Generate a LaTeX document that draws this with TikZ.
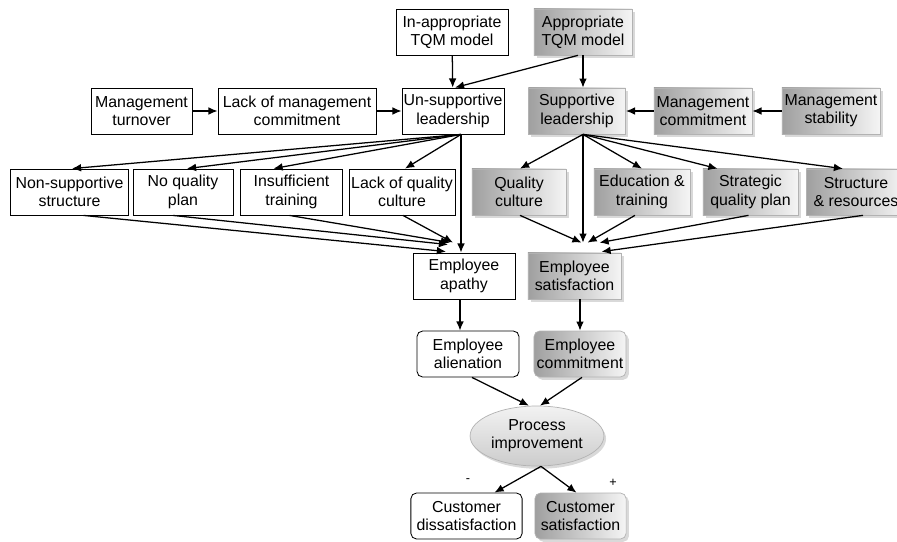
\documentclass[tikz,border=0pt]{standalone}
\usepackage{fontspec}
\setmainfont{Liberation Sans}
\usetikzlibrary{shapes.geometric,shadows,calc,arrows.meta}
\begin{document}
\begin{tikzpicture}[x=0.025cm,y=-0.025cm,
  every node/.style={align=center,font=\fontsize{11.3}{13}\selectfont,inner sep=1pt},
  plainbox/.style={draw,line width=0.6pt,minimum height=1.15cm},
  roundbox/.style={plainbox,rounded corners=4pt},
  shadebox/.style={draw=gray!60,line width=0.5pt,minimum height=1.15cm,
    left color=gray!75,right color=gray!8,
    drop shadow={shadow xshift=2pt,shadow yshift=-2pt,opacity=0.3}},
  shaderound/.style={shadebox,rounded corners=4pt},
  arr/.style={-{Latex[length=6.5pt,width=5.5pt]},line width=0.9pt}]
\useasboundingbox (0,0) rectangle (897,541);
\node[plainbox,minimum width=2.8cm] (inapp) at (452,32) {In-appropriate\\TQM model};
\node[shadebox,minimum width=2.45cm] (app) at (583,32) {Appropriate\\TQM model};
\node[plainbox,minimum width=2.525cm] (mturn) at (141.5,111) {Management\\turnover};
\node[plainbox,minimum width=3.95cm] (lackmc) at (297,111) {Lack of management\\commitment};
\node[plainbox,minimum width=2.55cm] (unsup) at (453,111) {Un-supportive\\leadership};
\node[shadebox,minimum width=2.43cm] (supp) at (577,111) {Supportive\\leadership};
\node[shadebox,minimum width=2.45cm] (mcomm) at (703,111) {Management\\commitment};
\node[shadebox,minimum width=2.45cm] (mstab) at (831,111) {Management\\stability};
\node[plainbox,minimum width=2.93cm] (nonsup) at (69.5,192) {Non-supportive\\structure};
\node[plainbox,minimum width=2.5cm] (noqp) at (183,192) {No quality\\plan};
\node[plainbox,minimum width=2.53cm] (insuf) at (291.5,192) {Insufficient\\training};
\node[plainbox,minimum width=2.65cm] (lackqc) at (402,192) {Lack of quality\\culture};
\node[shadebox,minimum width=2.35cm] (qcult) at (519,192) {Quality\\culture};
\node[shadebox,minimum width=2.4cm] (edu) at (642,192) {Education \&\\training};
\node[shadebox,minimum width=2.38cm] (strat) at (750.5,192) {Strategic\\quality plan};
\node[shadebox,minimum width=2.48cm] (struct) at (856,192) {Structure\\\& resources};
\node[plainbox,minimum width=2.55cm] (apathy) at (464,276) {Employee\\apathy};
\node[shadebox,minimum width=2.33cm] (esat) at (574.5,276) {Employee\\satisfaction};
\node[roundbox,minimum width=2.55cm] (alien) at (468,354) {Employee\\alienation};
\node[shaderound,minimum width=2.3cm] (ecomm) at (580,354) {Employee\\commitment};
\node[ellipse,draw=gray!60,line width=0.5pt,top color=gray!10,bottom color=gray!40,
  minimum width=3.1cm,minimum height=1.5cm,
  drop shadow={shadow xshift=1.5pt,shadow yshift=-2pt,opacity=0.3}] (procimp) at (537,436) {Process\\improvement};
\node[roundbox,minimum width=2.78cm] (cdis) at (466.5,516) {Customer\\dissatisfaction};
\node[shaderound,minimum width=2.28cm] (csat) at (580.5,516) {Customer\\satisfaction};
\node[font=\small] (minus) at (468,481) {-};
\node[font=\small] (plus) at (613,483) {+};
\draw[arr] (mturn) -- (lackmc);
\draw[arr] (lackmc) -- (unsup);
\draw[arr] (inapp) -- (unsup);
\draw[arr] ($(app.south)+(-5,0)$) -- ($(unsup.north)+(2,0)$);
\draw[arr] (app.south) -- (app.south |- supp.north);
\draw[arr] (mstab) -- (mcomm);
\draw[arr] (mcomm) -- (supp);
\coordinate (us) at ($(unsup.south)+(8,0)$);
\draw[arr] (us) -- ($(nonsup.north)+(2.5,0)$);
\draw[arr] (us) -- ($(noqp.north)+(4,0)$);
\draw[arr] (us) -- ($(insuf.north)+(-18,0)$);
\draw[arr] (us) -- ($(lackqc.north)+(3,0)$);
\draw[arr] (us) -- (us |- apathy.north);
\draw[arr] ($(nonsup.south)+(14,0)$) -- ($(apathy.north)+(-18,-1)$);
\draw[arr] ($(noqp.south)+(-10,0)$) -- ($(apathy.north)+(-16,-8)$);
\draw[arr] ($(insuf.south)+(-2,0)$) -- ($(apathy.north)+(-14,-10)$);
\draw[arr] ($(lackqc.south)+(1,0)$) -- ($(apathy.north)+(-11,-10)$);
\coordinate (ss) at ($(supp.south)+(6,0)$);
\draw[arr] (ss) -- ($(qcult.north)+(1,0)$);
\draw[arr] (ss) -- (edu.north);
\draw[arr] (ss) -- ($(strat.north)+(-33,0)$);
\draw[arr] (ss) -- ($(struct.north)+(-13,0)$);
\draw[arr] (ss) -- ($(ss |- esat.north)+(0,-10)$);
\draw[arr] ($(qcult.south)+(1,0)$) -- ($(esat.north)+(7,-10)$);
\draw[arr] ($(edu.south)+(-7,0)$) -- ($(esat.north)+(13,-10)$);
\draw[arr] ($(strat.south)+(-2,0)$) -- ($(esat.north)+(25,-10)$);
\draw[arr] ($(struct.south)+(7,0)$) -- ($(esat.north)+(27,-1)$);
\draw[arr] ($(apathy.south)+(-4,0)$) -- ($(apathy.south |- alien.north)+(-4,0)$);
\draw[arr] (ecomm.north |- esat.south) -- (ecomm.north);
\draw[arr] ($(alien.south)+(4,0)$) -- ($(procimp.north)+(-8,0)$);
\draw[arr] ($(ecomm.south)+(2,0)$) -- ($(procimp.north)+(3,0)$);
\draw[arr] ($(procimp.south)+(4,0)$) -- ($(cdis.north)+(28,0)$);
\draw[arr] ($(procimp.south)+(4,0)$) -- ($(csat.north)+(-4,0)$);
\end{tikzpicture}
\end{document}
